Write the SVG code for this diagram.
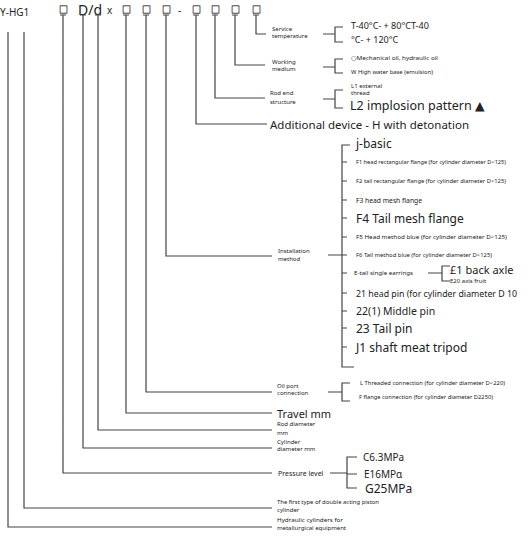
<svg xmlns="http://www.w3.org/2000/svg" width="530" height="540" viewBox="0 0 530 540">
<style>
text{font-family:"Noto Sans","DejaVu Sans",sans-serif;fill:#222;dominant-baseline:central}
.c{fill:none;stroke:#444;stroke-width:1.2}
.s{font-size:6px}
.xs{font-size:6px}
.m{font-size:9px}
.l{font-size:11.5px}
.h{font-size:10px}
.b{font-size:9px;font-family:"Noto Sans CJK SC","DejaVu Sans",sans-serif;fill:#222;stroke:#333;stroke-width:0.3}
</style>
<rect width="530" height="540" fill="#fff"/>
<g id="header">
<text x="0" y="12" class="h">Y-HG1</text>
<text x="59" y="9" class="b">□</text>
<text x="78" y="9" style="font-size:14px">D/d</text>
<text x="107" y="10" style="font-size:10px">x</text>
<text x="122" y="9" class="b">□</text>
<text x="142" y="9" class="b">□</text>
<text x="162" y="9" class="b">□</text>
<text x="178" y="10" style="font-size:10px">-</text>
<text x="192" y="9" class="b">□</text>
<text x="211" y="9" class="b">□</text>
<text x="231" y="9" class="b">□</text>
<text x="252" y="9" class="b">□</text>
</g>
<g id="connectors">
<path class="c" d="M60 15H66M80 15H86M95 15H101M123 15H129M143 15H149M163 15H169M193 15H199M212 15H218M232 15H238M253 15H259"/>
<path class="c" d="M8 32V527H272M24 32V508H272M63 15V473H272M83 15V448H272M98 15V430H272M126 15V413H272M146 15V392H272M166 15V256H272M196 15V124H267M215 15V98H265M235 15V65H265M256 15V34H266"/>
<path class="c" d="M323 34H335M343 27H335V42H343"/>
<path class="c" d="M323 67H335M343 59H335V73H343"/>
<path class="c" d="M323 99H335M343 90H335V108H343"/>
<path class="c" d="M328 255H342M350 145H342V367H354M342 162H347M342 181H347M342 200H347M342 218H347M342 237H347M342 255H347M342 273H347M342 293H347M342 311H347M342 328H347M342 347H347"/>
<path class="c" d="M428 273H442M450 266H442V281H450"/>
<path class="c" d="M328 392H342M350 383H342V401H350"/>
<path class="c" d="M330 473H347M357 457H347V488H357M347 474H357"/>
</g>
<g id="service-temperature">
<text x="272" y="28.5" class="s">Service</text>
<text x="272" y="36" class="s">temperature</text>
<text x="351" y="25" class="m">T-40°C- + 80°CT-40</text>
<text x="351" y="39" class="m">°C- + 120°C</text>
</g>
<g id="working-medium">
<text x="272" y="61.5" class="s">Working</text>
<text x="272" y="69" class="s">medium</text>
<text x="351" y="58" class="xs" textLength="87" lengthAdjust="spacingAndGlyphs">○Mechanical oil, hydraulic oil</text>
<text x="351" y="72" class="xs" textLength="82" lengthAdjust="spacingAndGlyphs">W High water base (emulsion)</text>
</g>
<g id="rod-end-structure">
<text x="270" y="93" class="s">Rod end</text>
<text x="270" y="102" class="s">structure</text>
<text x="351" y="86" class="xs">L1 external</text>
<text x="351" y="93" class="xs">thread</text>
<text x="350" y="105" style="font-size:12.5px">L2 implosion pattern ▲</text>
</g>
<g id="additional-device">
<text x="270" y="124" class="l">Additional device - H with detonation</text>
</g>
<g id="installation-method">
<text x="278" y="251" class="s">Installation</text>
<text x="278" y="259" class="s">method</text>
<text x="356" y="143" style="font-size:12px">j-basic</text>
<text x="356" y="162" class="xs" textLength="150" lengthAdjust="spacingAndGlyphs">F1 head rectangular flange (for cylinder diameter D&lt;125)</text>
<text x="356" y="181" class="xs" textLength="150" lengthAdjust="spacingAndGlyphs">F2 tail rectangular flange (for cylinder diameter D&lt;125)</text>
<text x="356" y="200" style="font-size:7px" textLength="66" lengthAdjust="spacingAndGlyphs">F3 head mesh flange</text>
<text x="356" y="218" style="font-size:12px">F4 Tail mesh flange</text>
<text x="356" y="237" class="xs" textLength="151" lengthAdjust="spacingAndGlyphs">F5 Head method blue (for cylinder diameter D&lt;125)</text>
<text x="356" y="255" class="xs" textLength="136" lengthAdjust="spacingAndGlyphs">F6 Tail method blue (for cylinder diameter D&lt;125)</text>
<text x="354" y="273" class="xs" textLength="59" lengthAdjust="spacingAndGlyphs">E-tail single earrings</text>
<text x="450" y="269" style="font-size:11px">£1 back axle</text>
<text x="450" y="281" class="xs">E20 axis fruit</text>
<text x="356" y="293" class="m" textLength="161" lengthAdjust="spacingAndGlyphs">21 head pin (for cylinder diameter D 10</text>
<text x="356" y="311" style="font-size:10.5px">22(1) Middle pin</text>
<text x="356" y="328" style="font-size:12px">23 Tail pin</text>
<text x="356" y="347" style="font-size:12px">J1 shaft meat tripod</text>
</g>
<g id="oil-port-connection">
<text x="277" y="385.5" class="s">Oil port</text>
<text x="277" y="393" class="s">connection</text>
<text x="360" y="383" class="xs" textLength="145" lengthAdjust="spacingAndGlyphs">L Threaded connection (for cylinder diameter D&lt;220)</text>
<text x="359" y="397" class="xs" textLength="134" lengthAdjust="spacingAndGlyphs">F flange connection (for cylinder diameter D2250)</text>
</g>
<g id="travel">
<text x="277" y="413" style="font-size:11px">Travel mm</text>
</g>
<g id="rod-diameter">
<text x="277" y="424" class="s">Rod diameter</text>
<text x="277" y="433" class="s">mm</text>
</g>
<g id="cylinder-diameter">
<text x="277" y="441.5" class="s">Cylinder</text>
<text x="277" y="449" class="s">diameter mm</text>
</g>
<g id="pressure-level">
<text x="278" y="473" style="font-size:7px">Pressure level</text>
<text x="363" y="457" style="font-size:10px">C6.3MPa</text>
<text x="364" y="474" style="font-size:10px">E16MPα</text>
<text x="365" y="488" style="font-size:12px">G25MPa</text>
</g>
<g id="piston-type">
<text x="277" y="502" class="xs" textLength="102" lengthAdjust="spacingAndGlyphs">The first type of double acting piston</text>
<text x="277" y="509.5" class="xs">cylinder</text>
</g>
<g id="metallurgical">
<text x="277" y="520" class="xs" textLength="66" lengthAdjust="spacingAndGlyphs">Hydraulic cylinders for</text>
<text x="277" y="527.5" class="xs" textLength="69" lengthAdjust="spacingAndGlyphs">metallurgical equipment</text>
</g>
</svg>
